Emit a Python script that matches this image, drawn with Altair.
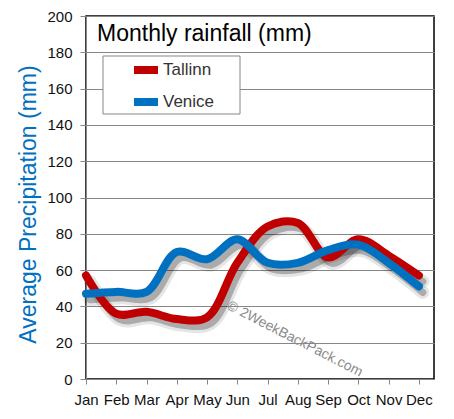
import altair as alt
import pandas as pd

months = ["Jan", "Feb", "Mar", "Apr", "May", "Jun", "Jul", "Aug", "Sep", "Oct", "Nov", "Dec"]
tallinn = [57, 36, 37, 33, 34, 64, 84, 86, 67, 77, 68, 57]
venice = [47, 48, 48, 70, 66, 77, 64, 64, 71, 74, 64, 51]
series_names = ["Tallinn", "Venice"]
series_colors = ["#C00000", "#0070C0"]
y_ticks = list(range(0, 201, 20))
watermark_text = ["© 2WeekBackPack.com"]
watermark_pos = [6.9, 22]

rows = []
for i, m in enumerate(months):
    rows.append({"idx": i, "month": m, "series": "Tallinn", "value": tallinn[i]})
    rows.append({"idx": i, "month": m, "series": "Venice", "value": venice[i]})
df = pd.DataFrame(rows)
wm = pd.DataFrame({"idx": [watermark_pos[0]], "value": [watermark_pos[1]], "t": watermark_text})

FONT = "Liberation Sans"
GRID = "#868686"
label_expr = "[" + ",".join(f"'{m}'" for m in months) + "][datum.value]"

x_enc = alt.X(
    "idx:Q",
    scale=alt.Scale(domain=[0, 11.5], nice=False, zero=False),
    axis=alt.Axis(values=list(range(12)), labelExpr=label_expr, title=None, grid=False,
                  domainColor=GRID, tickColor=GRID, tickSize=5, labelPadding=8,
                  labelFlush=False, labelOverlap=False,
                  labelFontSize=15, labelColor="#111", labelFont=FONT),
)
y_enc = alt.Y(
    "value:Q",
    scale=alt.Scale(domain=[0, 200], nice=False),
    axis=alt.Axis(values=y_ticks, title="Average Precipitation (mm)", titleColor="#0070C0",
                  titleFontSize=23, titleFontWeight="normal", titleFont=FONT,
                  titleX=-58, titleY=188, titleBaseline="middle", titleAngle=270,
                  labelFlush=False, labelOverlap=False,
                  grid=True, gridColor=GRID, domainColor=GRID, tickColor=GRID, tickSize=6,
                  labelPadding=8, labelFontSize=15, labelColor="#111", labelFont=FONT),
)

base = alt.Chart(df)

# legend frame (decoration)
legend_frame = alt.Chart(pd.DataFrame({"k": [0]})).mark_rect(
    fill="white", stroke=GRID, strokeWidth=1).encode(
    x=alt.value(17), x2=alt.value(154), y=alt.value(40), y2=alt.value(98))

shadow1 = base.mark_line(interpolate="catmull-rom", strokeWidth=13, color="#000", opacity=0.1,
                         xOffset=4, yOffset=6, strokeCap="round").encode(x=x_enc, y=y_enc, detail="series:N")
shadow2 = base.mark_line(interpolate="catmull-rom", strokeWidth=7, color="#000", opacity=0.25,
                         xOffset=4, yOffset=6, strokeCap="round").encode(x=x_enc, y=y_enc, detail="series:N")
lines = base.mark_line(interpolate="catmull-rom", strokeWidth=8, strokeCap="round").encode(
    x=x_enc, y=y_enc,
    color=alt.Color("series:N", scale=alt.Scale(domain=series_names, range=series_colors),
                    legend=alt.Legend(title=None, orient="none", legendX=44, legendY=38,
                                      padding=0,
                                      symbolType="stroke", symbolStrokeWidth=8, symbolSize=576,
                                      symbolOffset=0, labelOffset=1, rowPadding=-2,
                                      labelFontSize=17, labelFont=FONT, labelColor="#333")),
)
mark_wm = alt.Chart(wm).mark_text(angle=27, fontSize=14, color="#8a8a8a", font=FONT,
                                  align="center", baseline="middle").encode(
    x=x_enc, y=y_enc, text="t:N")

chart = alt.layer(legend_frame, shadow1, shadow2, lines, mark_wm).properties(
    width=348, height=363,
    padding={"left": 78, "top": 8, "right": 12, "bottom": 32},
    autosize=alt.AutoSizeParams(type="none"),
    title=alt.TitleParams("Monthly rainfall (mm)", anchor="start", frame="group", dx=11, dy=37,
                          offset=0, fontSize=23, font=FONT, fontWeight="normal", color="black"),
).configure_view(stroke="black", strokeWidth=1.5)

chart.save("out.html", embed_options={"renderer": "svg", "actions": False})
